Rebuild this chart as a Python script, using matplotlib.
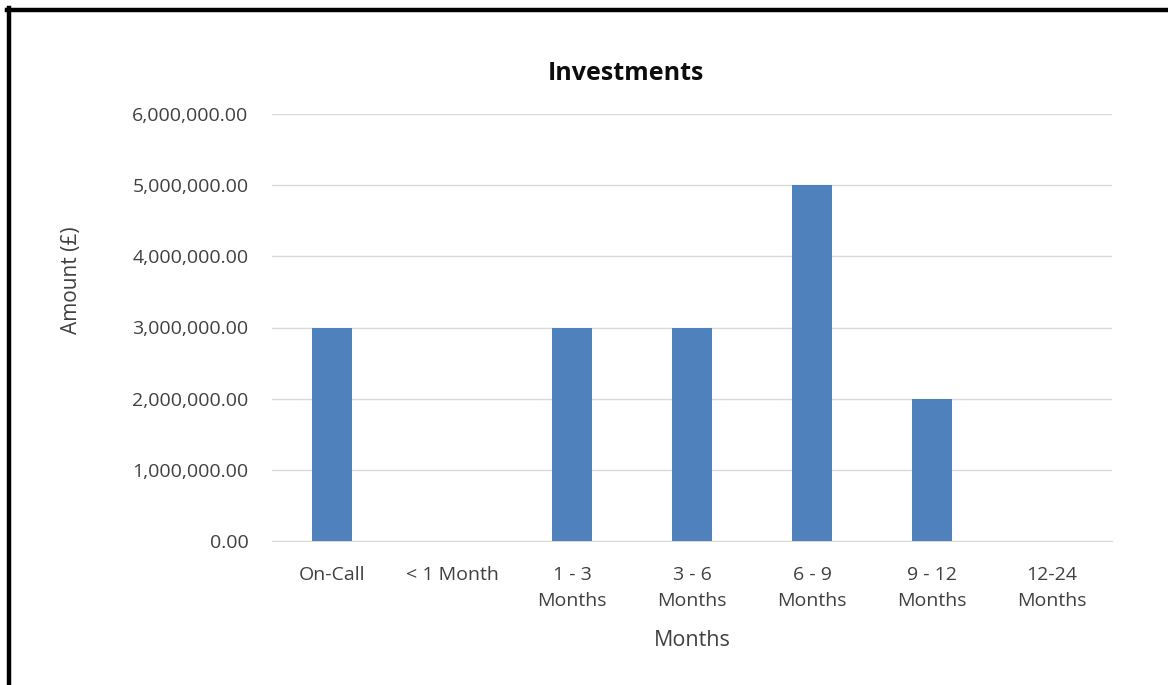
import matplotlib
matplotlib.use("Agg")
import matplotlib.pyplot as plt
from matplotlib.lines import Line2D
from matplotlib.ticker import FuncFormatter

categories = ["On-Call", "< 1 Month", "1 - 3\nMonths", "3 - 6\nMonths",
              "6 - 9\nMonths", "9 - 12\nMonths", "12-24\nMonths"]
amounts = [3000000, 0, 3000000, 3000000, 5000000, 2000000, 0]
yticks = [0, 1000000, 2000000, 3000000, 4000000, 5000000, 6000000]

plt.rcParams['font.family'] = ['Open Sans', 'DejaVu Sans']
text_col = '#404040'
W, H = 1168, 685

fig = plt.figure(figsize=(W / 100, H / 100), dpi=100)
ax = fig.add_axes([272 / W, 1 - 541 / H, 840 / W, 427 / H])

x = range(len(categories))
ax.bar(x, amounts, width=0.34, color='#4f81bd', zorder=3)

ax.set_xlim(-0.5, len(categories) - 0.5)
ax.set_ylim(0, 6000000)
ax.set_yticks(yticks)
ax.yaxis.set_major_formatter(FuncFormatter(lambda v, p: "{:,.2f}".format(v)))
ax.set_xticks(list(x))
ax.set_xticklabels(categories, linespacing=1.6)

ax.grid(axis='y', color='#d9d9d9', linewidth=1, zorder=0)
for s in ['top', 'right', 'left']:
    ax.spines[s].set_visible(False)
ax.spines['bottom'].set_color('#d9d9d9')
ax.tick_params(axis='both', length=0, labelsize=14, colors=text_col)
ax.tick_params(axis='x', pad=18)
ax.tick_params(axis='y', pad=17)

fig.text(626 / W, 1 - 73 / H, "Investments", fontsize=18, fontweight='bold',
         color='#0d0d0d', ha='center', va='center')
ax.set_xlabel("Months", fontsize=15.5, color=text_col)
ax.xaxis.set_label_coords((692 - 272) / 840, (541 - 641) / 427)
ax.set_ylabel("Amount (£)", fontsize=15, color=text_col)
ax.yaxis.set_label_coords((72 - 272) / 840, (541 - 280) / 427)
ax.xaxis.label.set_va('center')
ax.yaxis.label.set_va('center')

# black frame drawn on the left and top edges of the picture
fig.add_artist(Line2D([9 / W, 9 / W], [0, 1 - 8 / H], transform=fig.transFigure,
                      color='black', linewidth=3.2))
fig.add_artist(Line2D([7 / W, 1], [1 - 10 / H, 1 - 10 / H], transform=fig.transFigure,
                      color='black', linewidth=3.2))

fig.savefig("out.png", dpi=100)
